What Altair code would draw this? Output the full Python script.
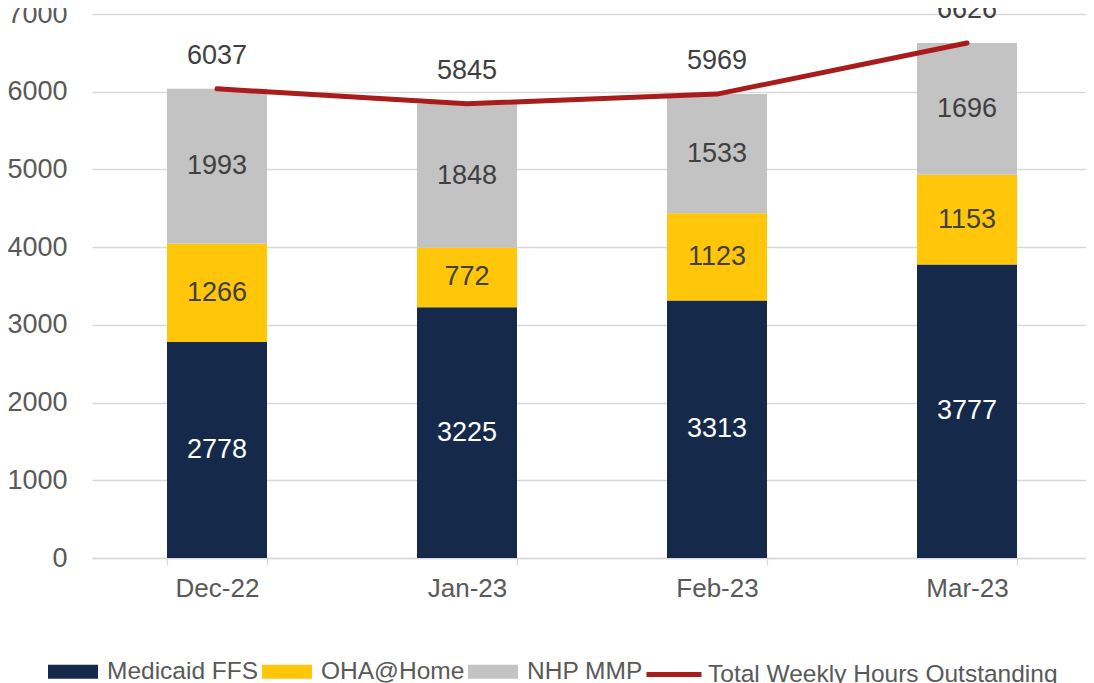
import altair as alt
import pandas as pd

months = ["Dec-22", "Jan-23", "Feb-23", "Mar-23"]
medicaid_ffs = [2778, 3225, 3313, 3777]
oha_home = [1266, 772, 1123, 1153]
nhp_mmp = [1993, 1848, 1533, 1696]
totals = [6037, 5845, 5969, 6626]

series_names = ["Medicaid FFS", "OHA@Home", "NHP MMP", "Total Weekly Hours Outstanding"]
series_colors = ["#15294B", "#FFC60A", "#C3C3C3", "#A81C1C"]
label_colors = ["#FFFFFF", "#404040", "#404040"]

FONT = "Liberation Sans"
NUM_SIZE = 27

rows = []
for i, m in enumerate(months):
    base = 0
    for j, vals in enumerate([medicaid_ffs, oha_home, nhp_mmp]):
        v = vals[i]
        rows.append({"month": m, "series": series_names[j], "order": j,
                     "start": base, "end": base + v, "mid": base + v / 2,
                     "value": v, "tcolor": label_colors[j]})
        base += v
bars_df = pd.DataFrame(rows)
tot_df = pd.DataFrame({"month": months, "total": totals})

LINE_NAME = series_names[3]
is_line = f"datum.value === '{LINE_NAME}'"

x_enc = alt.X(
    "month:N", sort=months,
    scale=alt.Scale(paddingInner=0.6, paddingOuter=0.3, range=[0, 1000]),
    axis=alt.Axis(title=None, labelAngle=0, tickBand="extent", ticks=True,
                  tickSize=7, tickColor="#D9D9D9", tickWidth=1.3,
                  domainColor="#D9D9D9", domainWidth=1.3,
                  labelFont=FONT, labelFontSize=26, labelColor="#595959",
                  labelPadding=10, grid=False),
)
y_scale = alt.Scale(domain=[0, 7000], nice=False)

legend = alt.Legend(
    orient="none", legendX=-46.5, legendY=630, direction="horizontal", columns=4,
    title=None, labelFont=FONT, labelFontSize=24.5, labelColor="#595959",
    labelLimit=0, symbolSize=2500, labelOffset=6.5, columnPadding=-7, padding=0,
    symbolType=alt.ExprRef(expr=f"{is_line} ? 'M-1.1,0H1.1' : 'M-1,-0.28H1V0.28H-1Z'"),
    symbolStrokeColor=alt.ExprRef(expr=f"{is_line} ? '{series_colors[3]}' : 'transparent'"),
    symbolStrokeWidth=5,
    symbolOpacity=1,
)

bars = alt.Chart(bars_df).mark_bar(stroke=None).encode(
    x=x_enc,
    y=alt.Y("start:Q", scale=y_scale,
            axis=alt.Axis(title=None, values=list(range(0, 7001, 1000)), format="d",
                          grid=True, gridColor="#D9D9D9", gridWidth=1.3,
                          domain=False, ticks=False, labelFont=FONT,
                          labelFontSize=NUM_SIZE, labelColor="#595959",
                          labelPadding=25)),
    y2="end:Q",
    color=alt.Color("series:N", scale=alt.Scale(domain=series_names, range=series_colors),
                    legend=legend),
    order=alt.Order("order:Q"),
)

seg_text = alt.Chart(bars_df).mark_text(fontSize=NUM_SIZE, font=FONT, baseline="middle").encode(
    x=alt.X("month:N", sort=months),
    y=alt.Y("mid:Q", scale=y_scale),
    text=alt.Text("value:Q"),
    color=alt.Color("tcolor:N", scale=None, legend=None),
)

line = alt.Chart(tot_df).mark_line(strokeWidth=5, strokeCap="round", color=series_colors[3]).encode(
    x=alt.X("month:N", sort=months),
    y=alt.Y("total:Q", scale=y_scale),
)

tot_text = alt.Chart(tot_df).mark_text(fontSize=NUM_SIZE, font=FONT, baseline="middle", dy=-33,
                                       color="#404040").encode(
    x=alt.X("month:N", sort=months),
    y=alt.Y("total:Q", scale=y_scale),
    text=alt.Text("total:Q"),
)

chart = alt.layer(bars, seg_text, line, tot_text).properties(
    width=994, height=544,
    padding={"left": 84, "top": 6, "right": 0, "bottom": 125},
    autosize=alt.AutoSizeParams(type="none"),
).configure_view(stroke=None)

chart.save("out.html", embed_options={"renderer": "svg", "actions": False})
